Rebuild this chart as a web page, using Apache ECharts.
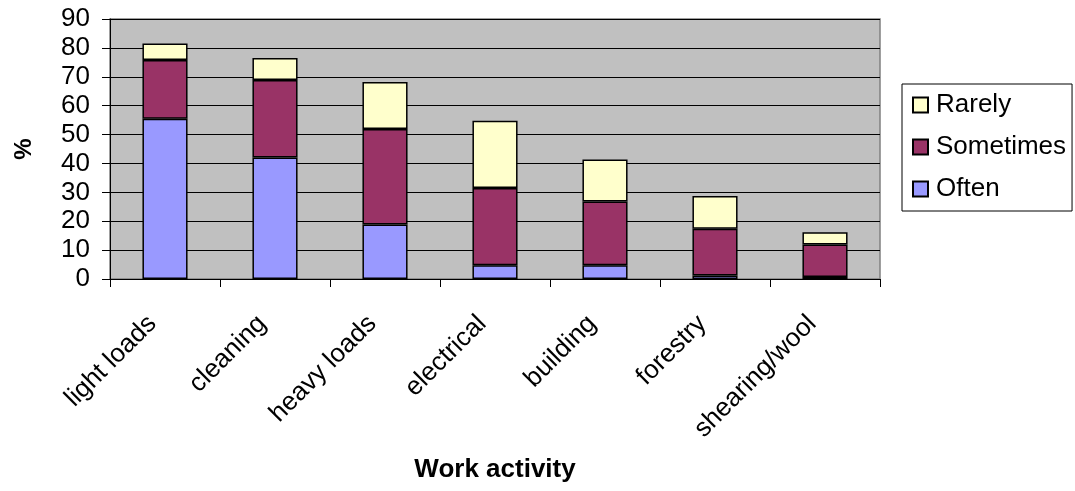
<!DOCTYPE html>
<html>
<head>
<meta charset="utf-8">
<script src="https://cdn.jsdelivr.net/npm/echarts@6/dist/echarts.min.js"></script>
<style>html,body{margin:0;padding:0;background:#fff;}#c{width:1075px;height:491px;}</style>
</head>
<body>
<div id="c"></div>
<script>
const categories = ['light loads','cleaning','heavy loads','electrical','building','forestry','shearing/wool'];
const often = [55.5, 42.1, 18.9, 4.8, 4.8, 1.2, 0.7];
const sometimes = [20.3, 26.8, 33.0, 26.7, 22.0, 16.2, 11.2];
const rarely = [5.7, 7.6, 16.3, 23.3, 14.6, 11.3, 4.3];
const yTicks = [0,10,20,30,40,50,60,70,80,90];

const chart = echarts.init(document.getElementById('c'));
const font = 'Arial, "Liberation Sans", sans-serif';
function bar(name, data, color) {
  return {
    name: name, type: 'bar', stack: 'a', data: data, barWidth: '41%',
    itemStyle: { color: color, borderColor: '#000', borderWidth: 1.5 },
    emphasis: { disabled: true }
  };
}
chart.setOption({
  animation: false,
  textStyle: { fontFamily: font },
  grid: { left: 110, top: 19, right: 195, bottom: 212, show: true, backgroundColor: '#C0C0C0', borderColor: '#808080', borderWidth: 1.5 },
  legend: {
    orient: 'vertical', left: 902, top: 84,
    data: ['Rarely','Sometimes','Often'],
    backgroundColor: '#fff', borderColor: '#000', borderWidth: 1,
    padding: [8, 6, 9, 10], itemGap: 16, itemWidth: 15, itemHeight: 15,
    textStyle: { fontSize: 26, color: '#000', fontFamily: font, padding: [0, 0, 0, 3] },
    icon: 'rect'
  },
  xAxis: {
    type: 'category', data: categories,
    name: 'Work activity', nameLocation: 'middle', nameGap: 178,
    nameTextStyle: { fontSize: 26, fontWeight: 'bold', color: '#000', fontFamily: font },
    axisLine: { lineStyle: { color: '#000', width: 1 } },
    axisTick: { show: true, length: 8, lineStyle: { color: '#000' } },
    axisLabel: { rotate: 45, fontSize: 26, color: '#000', margin: 28, fontFamily: font, interval: 0, padding: [0, 18, 0, 0] }
  },
  yAxis: {
    type: 'value', min: 0, max: 90, interval: 10,
    name: '%', nameLocation: 'middle', nameGap: 74, nameRotate: 90,
    nameTextStyle: { fontSize: 24, fontWeight: 'bold', color: '#000', fontFamily: font },
    axisLine: { show: true, lineStyle: { color: '#000', width: 1 } },
    axisTick: { show: true, length: 8, lineStyle: { color: '#000' } },
    axisLabel: { fontSize: 26, color: '#000', margin: 20, fontFamily: font,
      formatter: v => yTicks.includes(v) ? String(v) : '' },
    splitLine: { show: true, lineStyle: { color: '#000', width: 1 } }
  },
  series: [
    bar('Often', often, '#9999FF'),
    bar('Sometimes', sometimes, '#993366'),
    bar('Rarely', rarely, '#FFFFCC')
  ]
});
</script>
</body>
</html>
